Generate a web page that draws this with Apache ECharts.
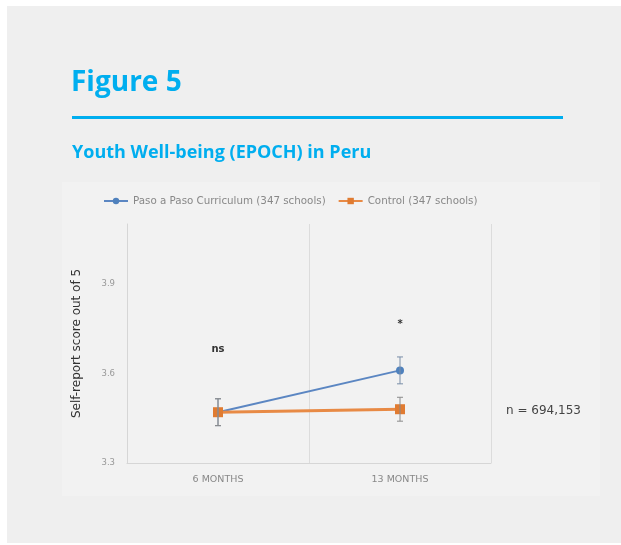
<!DOCTYPE html>
<html>
<head>
<meta charset="utf-8">
<script src="https://cdn.jsdelivr.net/npm/echarts@6/dist/echarts.min.js"></script>
<style>
html, body { margin: 0; padding: 0; background: #fff; }
#main { width: 621px; height: 545px; }
</style>
</head>
<body>
<div id="main"></div>
<script>
var categories = ['6 MONTHS', '13 MONTHS'];
var pasoValues = [3.47, 3.61];
var pasoErr = [0.045, 0.045];
var controlValues = [3.47, 3.48];
var controlErr = [0.045, 0.04];
var yTicks = [3.3, 3.6, 3.9];
var notes = [['6 MONTHS', 3.68, 'ns'], ['13 MONTHS', 3.765, '*']];

function errBars(vals, errs) {
  return vals.map(function (v, i) { return [i, v - errs[i], v + errs[i]]; });
}

function renderErr(color) {
  return function (params, api) {
    var x = api.coord([api.value(0), api.value(1)]);
    var top = api.coord([api.value(0), api.value(2)]);
    var w = 3;
    var st = { stroke: color, lineWidth: 1 };
    return {
      type: 'group',
      children: [
        { type: 'line', shape: { x1: x[0], y1: x[1], x2: top[0], y2: top[1] }, style: st },
        { type: 'line', shape: { x1: x[0] - w, y1: x[1], x2: x[0] + w, y2: x[1] }, style: st },
        { type: 'line', shape: { x1: top[0] - w, y1: top[1], x2: top[0] + w, y2: top[1] }, style: st }
      ]
    };
  };
}

var smallFont = '"DejaVu Sans", sans-serif';
var myChart = echarts.init(document.getElementById('main'));
var option = {
  backgroundColor: '#ffffff',
  textStyle: { fontFamily: smallFont },
  graphic: [
    { type: 'rect', shape: { x: 7, y: 6, width: 614, height: 537 }, style: { fill: '#efefef' }, z: -10 },
    { type: 'rect', shape: { x: 62, y: 182, width: 538, height: 314 }, style: { fill: '#f2f2f2' }, z: -9 },
    { type: 'text', left: 71, top: 69, style: { text: 'Figure 5', fill: '#00aeef', font: 'bold 28px "Open Sans", sans-serif' } },
    { type: 'rect', shape: { x: 72, y: 116, width: 491, height: 3 }, style: { fill: '#00aeef' } },
    { type: 'text', left: 72, top: 144, style: { text: 'Youth Well-being (EPOCH) in Peru', fill: '#00aeef', font: 'bold 18px "Open Sans", sans-serif' } },
    { type: 'text', left: 506, top: 405, style: { text: 'n = 694,153', fill: '#444', font: '12px "DejaVu Sans", sans-serif' } }
  ],
  legend: {
    top: 191,
    left: 98,
    itemWidth: 24,
    itemHeight: 8,
    itemGap: 12,
    textStyle: { color: '#888', fontSize: 10.3, fontFamily: smallFont },
    data: ['Paso a Paso Curriculum (347 schools)', 'Control (347 schools)']
  },
  grid: { left: 127, right: 130, top: 224, bottom: 82 },
  xAxis: {
    type: 'category',
    data: categories,
    boundaryGap: true,
    axisLine: { lineStyle: { color: '#d6d6d6' } },
    axisTick: { show: false },
    axisLabel: { color: '#888', fontSize: 9.5, margin: 12, fontFamily: smallFont },
    splitLine: { show: true, interval: 0, lineStyle: { color: '#dcdcdc' } }
  },
  yAxis: {
    type: 'value',
    min: 3.3,
    max: 4.1,
    interval: 0.3,
    name: 'Self-report score out of 5',
    nameLocation: 'middle',
    nameGap: 44,
    nameTextStyle: { color: '#333', fontSize: 12, fontFamily: smallFont },
    axisLine: { show: true, lineStyle: { color: '#d6d6d6' } },
    axisTick: { show: false },
    splitLine: { show: false },
    axisLabel: {
      color: '#999', fontSize: 8.5, margin: 12, showMaxLabel: false,
      formatter: function (v) { return yTicks.indexOf(Math.round(v * 10) / 10) >= 0 ? v.toFixed(1) : ''; }
    }
  },
  series: [
    {
      name: 'Paso a Paso Curriculum (347 schools)',
      type: 'line',
      data: pasoValues,
      symbol: 'circle',
      symbolSize: 8,
      itemStyle: { color: '#4f81bd' },
      lineStyle: { color: '#5b86c2', width: 2 },
      z: 3
    },
    {
      name: 'Control (347 schools)',
      type: 'line',
      data: controlValues,
      symbol: 'rect',
      symbolSize: 10,
      itemStyle: { color: '#e07b31' },
      lineStyle: { color: '#e88a45', width: 3 },
      z: 4,
      markPoint: {
        symbol: 'rect',
        symbolSize: 1,
        itemStyle: { color: 'transparent' },
        label: { show: true, color: '#333', fontSize: 10, fontWeight: 'bold' },
        data: notes.map(function (n) { return { coord: [n[0], n[1]], value: n[2] }; })
      }
    },
    {
      type: 'custom',
      renderItem: renderErr('#7a8ea8'),
      data: errBars(pasoValues, pasoErr),
      encode: { x: 0, y: [1, 2] },
      z: 5,
      silent: true
    },
    {
      type: 'custom',
      renderItem: renderErr('#8a8a8a'),
      data: errBars(controlValues, controlErr),
      encode: { x: 0, y: [1, 2] },
      z: 5,
      silent: true
    }
  ]
};
myChart.setOption(option);

window.onresize = function () {
  myChart.resize();
};
</script>
</body>
</html>
